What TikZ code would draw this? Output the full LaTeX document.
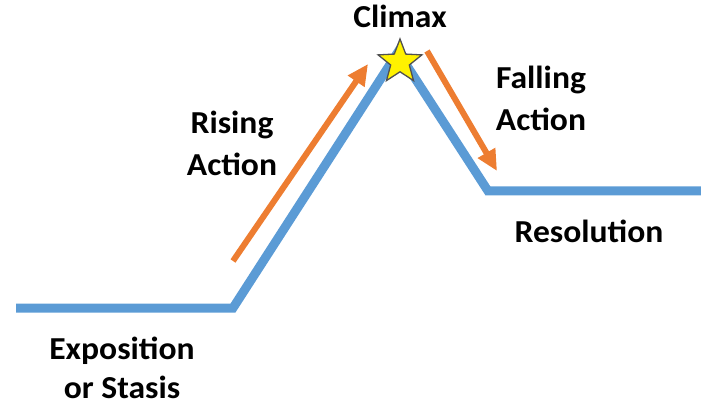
\documentclass[tikz,border=0pt]{standalone}
\usepackage{fontspec}
\setmainfont{Carlito}
\usetikzlibrary{shapes.geometric,arrows.meta}
\definecolor{plotblue}{HTML}{5B9BD5}
\definecolor{plotorange}{HTML}{ED7D31}
\definecolor{staredge}{HTML}{505050}
\tikzset{
  lbl/.style={font=\fontsize{32}{42}\selectfont\bfseries, inner sep=0pt, align=center, text=black, xscale=1.05, transform shape},
  plotline/.style={draw=plotblue, line width=9pt, line join=miter, line cap=butt},
  actarrow/.style={draw=plotorange, line width=6pt, -{Triangle[length=21pt,width=19pt]}},
  starmark/.style={star, star points=5, star point ratio=2.35, minimum size=46pt, inner sep=0pt, fill=yellow, draw=staredge, line width=1.3pt}
}
\begin{document}
\begin{tikzpicture}[x=1pt,y=-1pt]
\useasboundingbox (0,0) rectangle (701,406);
% plot line points
\coordinate (p0) at (16,308);
\coordinate (p1) at (233,308);
\coordinate (p2) at (398,52);
\coordinate (p3) at (488,191);
\coordinate (p4) at (701,191);
\draw[plotline] (p0) -- (p1) -- (p2) -- (p3) -- (p4);
% arrows
\coordinate (r0) at (233,261);
\coordinate (r1) at (368,64);
\coordinate (f0) at (427,51);
\coordinate (f1) at (497,171);
\draw[actarrow] (r0) -- (r1);
\draw[actarrow] (f0) -- (f1);
% star
\node[starmark] (climaxstar) at (400,62) {};
% labels
\node[lbl, anchor=base] (climax) at (400,28) {Climax};
\node[lbl] (rising) at (232,143) {Rising\\Action};
\node[lbl] (falling) at (541,98) {Falling\\Action};
\node[lbl, anchor=base] (resolution) at (589,242) {Resolution};
\node[lbl, font=\fontsize{32}{39}\selectfont\bfseries] (exposition) at (122,368) {Exposition\\or Stasis};
\end{tikzpicture}
\end{document}
